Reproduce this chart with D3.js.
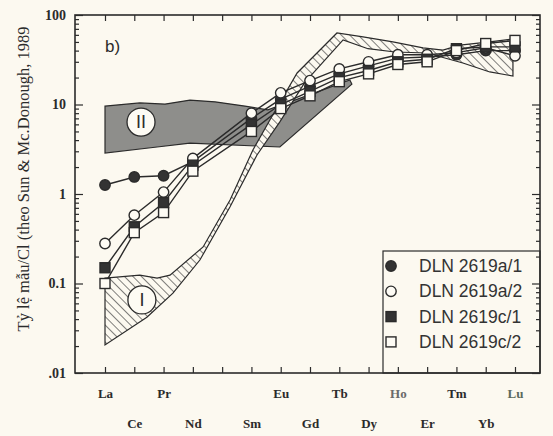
<!DOCTYPE html>
<html><head><meta charset="utf-8">
<script src="https://cdn.jsdelivr.net/npm/d3@7"></script>
<style>html,body{margin:0;padding:0;background:#fcf9f0;}svg{display:block;}</style>
</head><body>
<svg id="chart" width="553" height="436"></svg>
<script>
// Element slots along the x axis (Pm keeps its place but has no label or data)
const slots = ["La","Ce","Pr","Nd","Pm","Sm","Eu","Gd","Tb","Dy","Ho","Er","Tm","Yb","Lu"];
const elements = ["La","Ce","Pr","Nd","Sm","Eu","Gd","Tb","Dy","Ho","Er","Tm","Yb","Lu"];
const seriesNames = ["DLN 2619a/1","DLN 2619a/2","DLN 2619c/1","DLN 2619c/2"];
const a1 = [1.26,1.55,1.6,2.3,7,11.5,16,22,27,33,34,36,40,40];
const a2 = [0.28,0.58,1.05,2.5,8,13.5,18.5,25,30,36,36,38,43,35];
const c1 = [0.15,0.43,0.8,2.1,6,10,14,20,24,30,32,42,44,44];
const c2 = [0.1,0.37,0.62,1.8,5,9,12.5,18,22,28,30,40,48,52];
const yTickValues = [0.01,0.1,1,10,100];
const yTickLabels = [".01","0.1","1","10","100"];
// Reference fields as [slot index, normalized value]
const fieldII = [[0,9.6],[1.19,10.4],[2.05,10.1],[2.9,11.2],[3.76,10.7],[4.78,9.6],[5.56,8.7],[7.0,12.9],[8.36,18.8],[8.43,16.9],[5.97,3.35],[2.9,3.7],[1.78,3.35],[0,2.87]];
const fieldI = [[0,0.115],[1.19,0.124],[1.78,0.115],[2.22,0.124],[3.35,0.256],[4.27,0.857],[5.05,3.1],[5.63,6.7],[6.56,22.5],[7.92,63],[8.81,57],[9.83,50],[10.86,43],[11.54,40.6],[12.12,46],[13.14,50],[13.93,54],
  [13.93,20.8],[13.14,23.1],[12.22,29.1],[10.99,37.6],[9.9,38.6],[8.98,42],[8.13,52.6],[6.83,17.8],[5.97,6.4],[5.19,2.73],[4.27,0.72],[3.24,0.183],[2.32,0.078],[1.43,0.042],[0,0.0206]];
const fieldLabels = [{t:"II",x:1.23,v:6.37},{t:"I",x:1.26,v:0.0655}];

const svg = d3.select("#chart");
const L=75,R=540,T=15,B=373;
const x = d3.scaleLinear().domain([0,14]).range([105,515]);
const y = d3.scaleLog().domain([0.01,100]).range([B,T]);
const ink = "#2b2b2b", bg = "#fcf9f0";

svg.append("rect").attr("width",553).attr("height",436).attr("fill",bg);

const defs = svg.append("defs");
const pat = defs.append("pattern").attr("id","hatch").attr("patternUnits","userSpaceOnUse")
  .attr("width",6).attr("height",6).attr("patternTransform","rotate(-45)");
pat.append("rect").attr("width",6).attr("height",6).attr("fill",bg);
pat.append("line").attr("x1",0).attr("y1",0).attr("x2",0).attr("y2",6).attr("stroke",ink).attr("stroke-width",1.2);

const area = d3.line().x(d=>x(d[0])).y(d=>y(d[1]));
svg.append("path").attr("d",area(fieldII)+"Z").attr("fill","#8e8e8b").attr("stroke",ink).attr("stroke-width",1.2);
svg.append("path").attr("d",area(fieldI)+"Z").attr("fill","url(#hatch)").attr("stroke",ink).attr("stroke-width",1.2);

// series
const allSeries = [a1,a2,c1,c2];
const markerType = ["fcircle","ocircle","fsquare","osquare"];
const xi = el => x(slots.indexOf(el));
const line = d3.line().x((d,i)=>xi(elements[i])).y(d=>y(d));
allSeries.forEach(s=>{
  svg.append("path").attr("d",line(s)).attr("fill","none").attr("stroke",ink).attr("stroke-width",1.4);
});
function marker(g,type,cx,cy){
  if(type.endsWith("circle")){
    g.append("circle").attr("cx",cx).attr("cy",cy).attr("r",5.2)
      .attr("fill",type[0]==="f"?"#333":"#fdfbf4").attr("stroke",ink).attr("stroke-width",1.4);
  } else {
    g.append("rect").attr("x",cx-5).attr("y",cy-5).attr("width",10).attr("height",10)
      .attr("fill",type[0]==="f"?"#333":"#fdfbf4").attr("stroke",ink).attr("stroke-width",1.4);
  }
}
const mg = svg.append("g");
allSeries.forEach((s,k)=>{
  s.forEach((v,i)=>marker(mg,markerType[k],xi(elements[i]),y(v)));
});

// field labels
fieldLabels.forEach(f=>{
  svg.append("circle").attr("cx",x(f.x)).attr("cy",y(f.v)).attr("r",14).attr("fill","#fdfbf4").attr("stroke",ink).attr("stroke-width",1.3);
  svg.append("text").attr("x",x(f.x)).attr("y",y(f.v)).attr("text-anchor","middle").attr("dominant-baseline","central")
    .attr("font-family","Liberation Sans, Arial, sans-serif").attr("font-size",18).attr("fill",ink).text(f.t);
});

svg.append("text").attr("x",105).attr("y",52).attr("font-family","Liberation Sans, Arial, sans-serif")
  .attr("font-size",17).attr("fill",ink).text("b)");

// legend
const lg = svg.append("g");
lg.append("rect").attr("x",383).attr("y",251).attr("width",R-383).attr("height",B-251).attr("fill",bg).attr("stroke",ink).attr("stroke-width",1.2);
seriesNames.forEach((n,k)=>{
  const cy = 266 + k*25.3;
  marker(lg,markerType[k],391,cy);
  lg.append("text").attr("x",419).attr("y",cy).attr("dominant-baseline","central")
    .attr("font-family","Liberation Sans, Arial, sans-serif").attr("font-size",17.5).attr("fill","#333").text(n);
});

// axes
const minor = [];
for(let e=-2;e<2;e++) for(let m=2;m<10;m++) minor.push(m*Math.pow(10,e));
function styleAxis(g){ g.select(".domain").remove(); g.selectAll("line").attr("stroke",ink).attr("stroke-width",1.2); }
svg.append("g").attr("transform",`translate(${L},0)`).call(d3.axisLeft(y).tickValues(minor).tickSize(-4).tickFormat("")).call(styleAxis);
const yl = svg.append("g").attr("transform",`translate(${L},0)`).call(d3.axisLeft(y).tickValues(yTickValues).tickSize(-8).tickPadding(9)
  .tickFormat((d,i)=>yTickLabels[i])).call(styleAxis);
yl.selectAll("text").attr("font-family","Liberation Serif, Times New Roman, serif").attr("font-weight","bold").attr("font-size",14).attr("fill",ink);
svg.append("g").attr("transform",`translate(${R},0)`).call(d3.axisRight(y).tickValues(minor).tickSize(-4).tickFormat("")).call(styleAxis);
svg.append("g").attr("transform",`translate(${R},0)`).call(d3.axisRight(y).tickValues(yTickValues).tickSize(-8).tickFormat("")).call(styleAxis);
svg.append("g").attr("transform",`translate(0,${T})`).call(d3.axisTop(x).tickValues(d3.range(15)).tickSize(-6).tickFormat("")).call(styleAxis);
const xb = svg.append("g").attr("transform",`translate(0,${B})`).call(d3.axisBottom(x).tickValues(d3.range(15)).tickSize(-6)
  .tickFormat(i=>slots[i]==="Pm"?"":slots[i])).call(styleAxis);
xb.selectAll("text").attr("y",(i)=> i%2===0?20:50).attr("dy",0).attr("dominant-baseline","central")
  .attr("font-family","Liberation Serif, Times New Roman, serif").attr("font-weight","bold").attr("font-size",13)
  .attr("fill",i=> slots[i]==="Ho"?"#6a6a6a":(slots[i]==="Lu"?"#5d6a5d":ink));

svg.append("rect").attr("x",L).attr("y",T).attr("width",R-L).attr("height",B-T).attr("fill","none").attr("stroke",ink).attr("stroke-width",1.6);

// y title
svg.append("text").attr("transform","translate(23,179) rotate(-90)").attr("text-anchor","middle").attr("dominant-baseline","central")
  .attr("font-family","Liberation Serif, Times New Roman, serif").attr("font-size",16.5).attr("fill",ink)
  .text("Tỷ lệ mẫu/Cl (theo Sun & Mc.Donough, 1989");
</script>
</body></html>
